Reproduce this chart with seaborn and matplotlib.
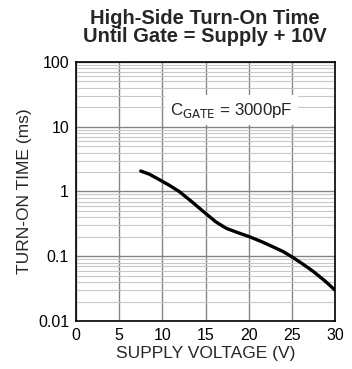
import matplotlib
matplotlib.use("Agg")
import matplotlib.pyplot as plt
import seaborn as sns
import numpy as np
import pandas as pd
from matplotlib.ticker import FixedLocator, LogLocator, NullFormatter, FixedFormatter

supply_voltage = [7.5, 8.5, 9.7, 10.8, 12.0, 13.5, 15.0, 16.2, 17.4, 18.8, 20.1, 21.5, 22.8, 24.0, 25.0, 26.2, 27.5, 28.8, 30.0]
turn_on_time = [2.07, 1.85, 1.51, 1.25, 0.99, 0.68, 0.46, 0.34, 0.27, 0.23, 0.20, 0.168, 0.14, 0.118, 0.098, 0.077, 0.058, 0.042, 0.030]
x_ticks = [0, 5, 10, 15, 20, 25, 30]
y_ticks = [0.01, 0.1, 1, 10, 100]
y_tick_labels = ["0.01", "0.1", "1", "10", "100"]

sns.set_style("white")
plt.rcParams['font.family'] = ['Liberation Sans', 'DejaVu Sans']

fig = plt.figure(figsize=(3.52, 3.69), dpi=100)
ax = fig.add_axes([76/352, 1-321/369, (335-76)/352, (321-62)/369])

df = pd.DataFrame({"v": supply_voltage, "t": turn_on_time})

ax.set_yscale("log")
ax.set_xlim(0, 30)
ax.set_ylim(0.01, 100)

ax.xaxis.set_major_locator(FixedLocator(x_ticks))
ax.yaxis.set_major_locator(FixedLocator(y_ticks))
ax.yaxis.set_major_formatter(FixedFormatter(y_tick_labels))
ax.yaxis.set_minor_locator(LogLocator(base=10, subs=np.arange(2, 10), numticks=20))
ax.yaxis.set_minor_formatter(NullFormatter())

ax.grid(True, which="major", axis="both", color="#858585", linewidth=1.0)
ax.grid(True, which="minor", axis="y", color="#c8c8c8", linewidth=0.8)
ax.set_axisbelow(True)

sns.lineplot(data=df, x="v", y="t", ax=ax, color="black", linewidth=2.4, zorder=3)

for s in ax.spines.values():
    s.set_color("black")
    s.set_linewidth(1.2)

ax.tick_params(axis="both", which="both", length=0, labelsize=11.5, pad=5, colors="black")

ax.set_xlabel("SUPPLY VOLTAGE (V)", fontsize=12.5, labelpad=2)
ax.set_ylabel("TURN-ON TIME (ms)", fontsize=12.5, labelpad=4)

ax.text(18.0, 18.0, r"C$_{\mathrm{GATE}}$ = 3000pF", fontsize=12.2, ha="center", va="center",
        bbox=dict(facecolor="white", edgecolor="none", pad=4), zorder=4)

fig.text(205/352, 1-9/369, "High-Side Turn-On Time\nUntil Gate = Supply + 10V", ha="center", va="top",
         fontsize=14.5, fontweight="bold", linespacing=0.95)

fig.savefig("out.png", dpi=100)
